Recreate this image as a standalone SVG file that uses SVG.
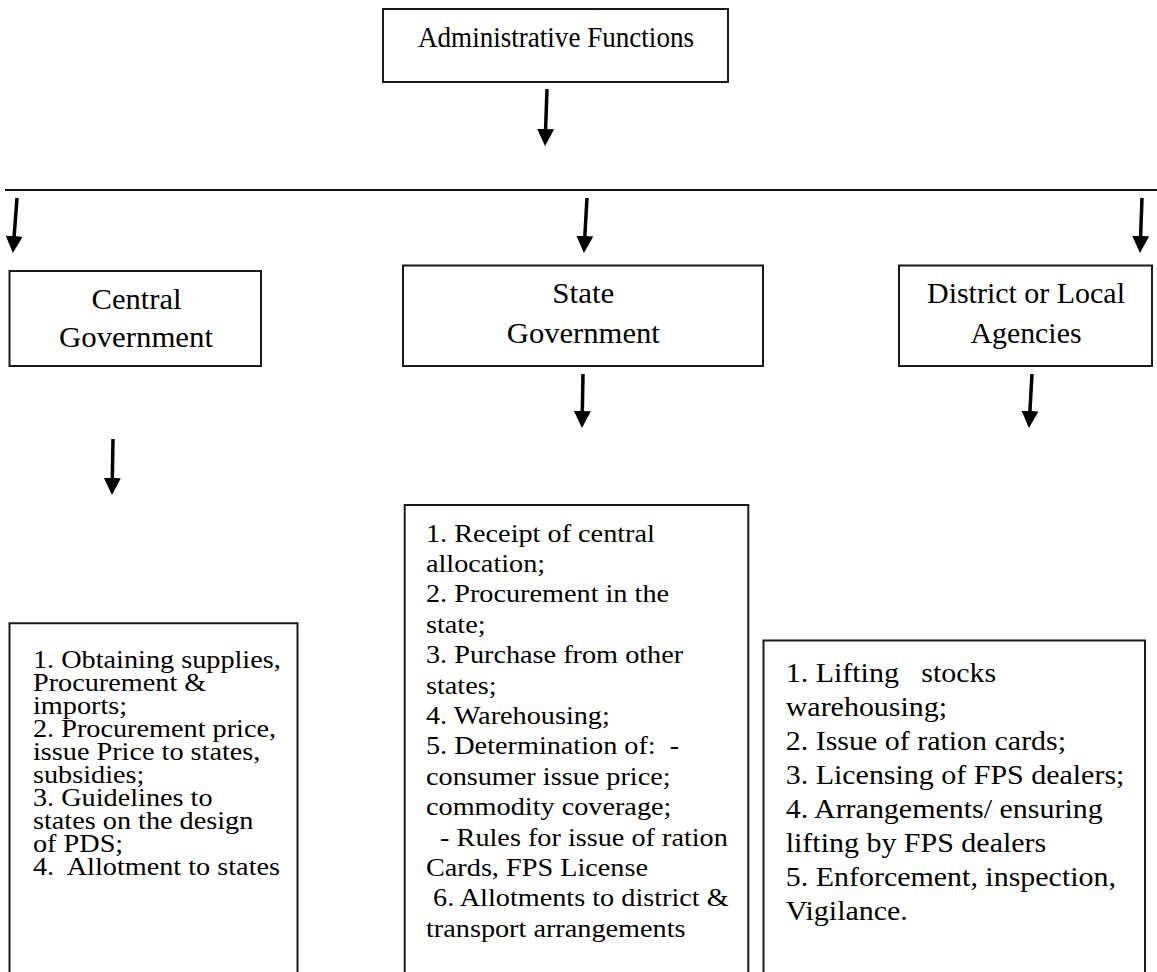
<svg xmlns="http://www.w3.org/2000/svg" width="1157" height="972" viewBox="0 0 1157 972">
<style>
.box{fill:#fff;stroke:#1a1a1a;stroke-width:2}
.open{fill:none;stroke:#1a1a1a;stroke-width:2}
.lbl{font-family:"Liberation Serif","Times New Roman",serif;font-size:29px;fill:#000;text-anchor:middle}
.lst{font-family:"Liberation Serif","Times New Roman",serif;font-size:25px;fill:#000}
.lst2{font-family:"Liberation Serif","Times New Roman",serif;font-size:27.5px;fill:#000}
.arr{stroke:#000;stroke-width:3.5;fill:none;marker-end:url(#ah)}
</style>
<defs>
<marker id="ah" markerUnits="userSpaceOnUse" markerWidth="17" markerHeight="17" viewBox="0 0 17 17" refX="6" refY="8.5" orient="auto">
<path d="M0,0 L17,8.5 L0,17 z" fill="#000"/>
</marker>
</defs>
<rect width="1157" height="972" fill="#fff"/>

<g id="connectors">
<line x1="5" y1="190" x2="1157" y2="190" stroke="#111" stroke-width="2"/>
<line class="arr" x1="547" y1="89" x2="545.4" y2="135"/>
<line class="arr" x1="17" y1="198" x2="13.7" y2="242"/>
<line class="arr" x1="587" y1="198" x2="584.5" y2="242"/>
<line class="arr" x1="1142" y1="198" x2="1140.4" y2="242"/>
<line class="arr" x1="583" y1="374" x2="582.2" y2="417"/>
<line class="arr" x1="1032" y1="374" x2="1029.6" y2="417"/>
<line class="arr" x1="113" y1="439" x2="112.2" y2="484"/>
</g>

<g id="admin">
<rect class="box" x="383" y="9" width="345" height="73"/>
<text class="lbl" x="556" y="47" textLength="276" lengthAdjust="spacingAndGlyphs">Administrative Functions</text>
</g>

<g id="central">
<rect class="box" x="9.5" y="271" width="251.5" height="95"/>
<text class="lbl" x="136.5" y="309" textLength="90" lengthAdjust="spacingAndGlyphs">Central</text>
<text class="lbl" x="136" y="347" textLength="154" lengthAdjust="spacingAndGlyphs">Government</text>
</g>

<g id="state">
<rect class="box" x="403" y="265.5" width="360" height="100.5"/>
<text class="lbl" x="583.3" y="303.3" textLength="62" lengthAdjust="spacingAndGlyphs">State</text>
<text class="lbl" x="583.3" y="342.7" textLength="153" lengthAdjust="spacingAndGlyphs">Government</text>
</g>

<g id="district">
<rect class="box" x="899" y="265.5" width="253" height="100.5"/>
<text class="lbl" x="1026" y="303.3" textLength="198" lengthAdjust="spacingAndGlyphs">District or Local</text>
<text class="lbl" x="1026" y="342.7" textLength="111" lengthAdjust="spacingAndGlyphs">Agencies</text>
</g>

<g id="central-list">
<path class="open" d="M9.5,976 L9.5,623.3 L297.5,623.3 L297.5,976"/>
<g transform="translate(33,0) scale(1.13,1)">
<text class="lst" x="0" y="668" xml:space="preserve">1. Obtaining supplies,</text>
<text class="lst" x="0" y="691" xml:space="preserve">Procurement &amp;</text>
<text class="lst" x="0" y="714" xml:space="preserve">imports;</text>
<text class="lst" x="0" y="737" xml:space="preserve">2. Procurement price,</text>
<text class="lst" x="0" y="760" xml:space="preserve">issue Price to states,</text>
<text class="lst" x="0" y="783" xml:space="preserve">subsidies;</text>
<text class="lst" x="0" y="806" xml:space="preserve">3. Guidelines to</text>
<text class="lst" x="0" y="829" xml:space="preserve">states on the design</text>
<text class="lst" x="0" y="852" xml:space="preserve">of PDS;</text>
<text class="lst" x="0" y="875" xml:space="preserve">4.  Allotment to states</text>
</g>
</g>

<g id="state-list">
<path class="open" d="M404.7,976 L404.7,505 L748.3,505 L748.3,976"/>
<g transform="translate(426,0) scale(1.13,1)">
<text class="lst" x="0" y="541.7" xml:space="preserve">1. Receipt of central</text>
<text class="lst" x="0" y="572.1" xml:space="preserve">allocation;</text>
<text class="lst" x="0" y="602.5" xml:space="preserve">2. Procurement in the</text>
<text class="lst" x="0" y="632.9" xml:space="preserve">state;</text>
<text class="lst" x="0" y="663.3" xml:space="preserve">3. Purchase from other</text>
<text class="lst" x="0" y="693.7" xml:space="preserve">states;</text>
<text class="lst" x="0" y="724.1" xml:space="preserve">4. Warehousing;</text>
<text class="lst" x="0" y="754.5" xml:space="preserve">5. Determination of:  -</text>
<text class="lst" x="0" y="784.9" xml:space="preserve">consumer issue price;</text>
<text class="lst" x="0" y="815.3" xml:space="preserve">commodity coverage;</text>
<text class="lst" x="0" y="845.7" xml:space="preserve">  - Rules for issue of ration</text>
<text class="lst" x="0" y="876.1" xml:space="preserve">Cards, FPS License</text>
<text class="lst" x="0" y="906.5" xml:space="preserve"> 6. Allotments to district &amp;</text>
<text class="lst" x="0" y="936.9" xml:space="preserve">transport arrangements</text>
</g>
</g>

<g id="district-list">
<path class="open" d="M763.5,976 L763.5,640.5 L1145,640.5 L1145,976"/>
<g transform="translate(785.7,0) scale(1.09,1)">
<text class="lst2" x="0" y="682" xml:space="preserve">1. Lifting   stocks</text>
<text class="lst2" x="0" y="716" xml:space="preserve">warehousing;</text>
<text class="lst2" x="0" y="750" xml:space="preserve">2. Issue of ration cards;</text>
<text class="lst2" x="0" y="784" xml:space="preserve">3. Licensing of FPS dealers;</text>
<text class="lst2" x="0" y="818" xml:space="preserve">4. Arrangements/ ensuring</text>
<text class="lst2" x="0" y="852" xml:space="preserve">lifting by FPS dealers</text>
<text class="lst2" x="0" y="886" xml:space="preserve">5. Enforcement, inspection,</text>
<text class="lst2" x="0" y="920" xml:space="preserve">Vigilance.</text>
</g>
</g>
</svg>
